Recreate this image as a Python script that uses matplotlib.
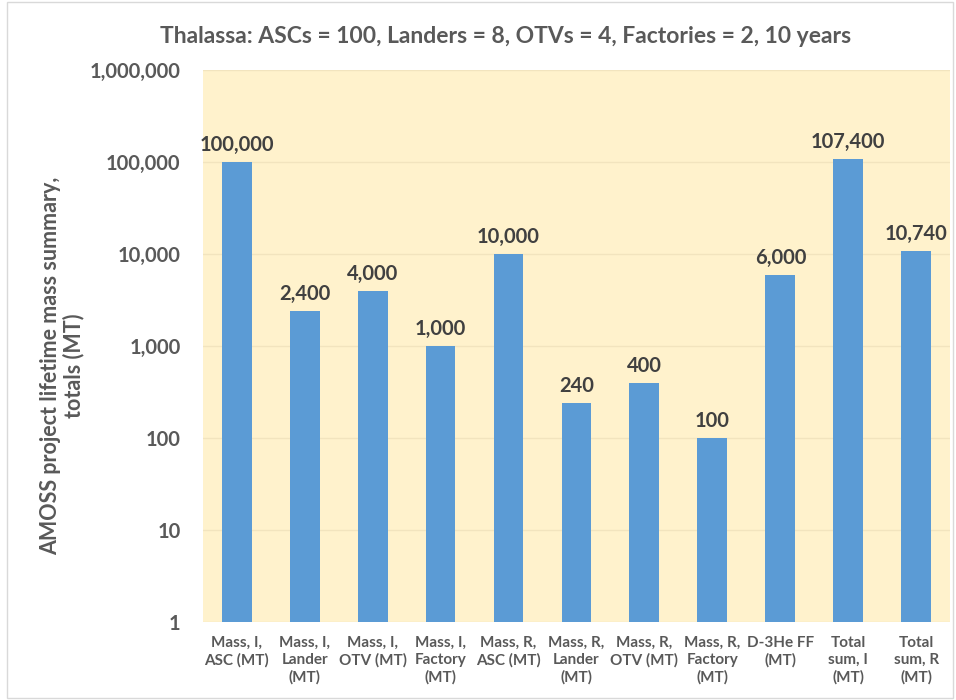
import matplotlib
matplotlib.use("Agg")
import matplotlib.pyplot as plt
from matplotlib.ticker import FixedLocator, FuncFormatter, NullLocator
from matplotlib.patches import Rectangle

categories = ["Mass, I,\nASC (MT)", "Mass, I,\nLander\n(MT)", "Mass, I,\nOTV (MT)",
              "Mass, I,\nFactory\n(MT)", "Mass, R,\nASC (MT)", "Mass, R,\nLander\n(MT)",
              "Mass, R,\nOTV (MT)", "Mass, R,\nFactory\n(MT)", "D-3He FF\n(MT)",
              "Total\nsum, I\n(MT)", "Total\nsum, R\n(MT)"]
values = [100000, 2400, 4000, 1000, 10000, 240, 400, 100, 6000, 107400, 10740]
yticks = [1, 10, 100, 1000, 10000, 100000, 1000000]
title = "Thalassa: ASCs = 100, Landers = 8, OTVs = 4, Factories = 2, 10 years"
ylabel = "AMOSS project lifetime mass summary,\ntotals (MT)"

plt.rcParams['font.family'] = ['Lato', 'DejaVu Sans']
txt = '#595959'

fig = plt.figure(figsize=(9.56, 7.0), dpi=100)
fig.patches.append(Rectangle((0.007, 0.003), 0.99, 0.994, transform=fig.transFigure,
                             fill=False, edgecolor='#d9d9d9', linewidth=1))
ax = fig.add_axes([0.212, 0.111, 0.782, 0.789])
ax.set_facecolor('#FFF2CC')
x = range(len(categories))
ax.bar(x, values, width=0.44, color='#5B9BD5', zorder=3, bottom=1)
ax.set_yscale('log')
ax.set_ylim(1, 1000000)
ax.set_xlim(-0.5, len(categories) - 0.5)
ax.yaxis.set_major_locator(FixedLocator(yticks))
ax.yaxis.set_minor_locator(NullLocator())
ax.yaxis.set_major_formatter(FuncFormatter(lambda v, p: f"{int(round(v)):,}"))
ax.grid(axis='y', color='#F2E4BE', linewidth=1, zorder=0)
for s in ax.spines.values():
    s.set_visible(False)
ax.tick_params(axis='both', length=0)
ax.tick_params(axis='y', labelsize=14.5, labelcolor=txt, pad=16)
for lab in ax.get_yticklabels():
    lab.set_fontweight('bold')
ax.set_xticks(list(x))
ax.set_xticklabels(categories, fontsize=11, color=txt, fontweight='bold', linespacing=1.25)
ax.tick_params(axis='x', pad=10)
for xi, v in zip(x, values):
    ax.annotate(f"{v:,}", (xi, v), xytext=(0, 5), textcoords='offset points',
                ha='center', va='bottom', fontsize=14.5, fontweight='bold', color='#404040', zorder=4)
ax.set_ylabel(ylabel, fontsize=15.5, fontweight='bold', color=txt, linespacing=1.1)
ax.yaxis.set_label_coords(-0.158, 0.465)
fig.text(0.529, 0.948, title, ha='center', va='center', fontsize=16.5, color=txt, fontweight='bold')
fig.savefig('out.png', dpi=100)
